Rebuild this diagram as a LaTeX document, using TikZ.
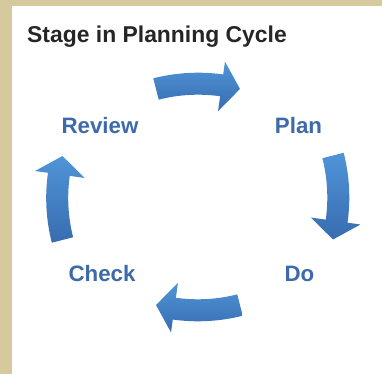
\documentclass[tikz,border=0pt]{standalone}
\usepackage{fontspec}
\setmainfont{Liberation Sans}
\definecolor{tanband}{RGB}{214,201,158}
\definecolor{titlegray}{RGB}{38,38,38}
\definecolor{stageblue}{RGB}{62,106,170}
\definecolor{arrowlight}{RGB}{80,148,216}
\definecolor{arrowdark}{RGB}{56,108,176}

\begin{document}
\begin{tikzpicture}
  [ x=1pt, y=1pt
  , title/.style={anchor=base west, inner sep=0pt, text=titlegray, font=\fontsize{22.9}{27}\selectfont\bfseries}
  , stage/.style={anchor=base, inner sep=0pt, text=stageblue, font=\fontsize{22.3}{26}\selectfont\bfseries}
  , cyclearrow/.style={top color=arrowlight, bottom color=arrowdark}]
  \useasboundingbox (0,0) rectangle (382,374);
  \fill [tanband] (0,0) rectangle (382,374);
  \fill [white] (11.5,0) rectangle (382,368);
  \node (title) at (27,331) [title] {Stage in Planning Cycle};
  \node (review) at (100,240) [stage] {Review};
  \node (plan) at (298.5,240) [stage] {Plan};
  \node (check) at (102,92.3) [stage] {Check};
  \node (do) at (299.5,92.3) [stage] {Do};
  % review -> plan
  \begin{scope}[shift={(198,120.3)}]
    \shade [cyclearrow] (104.3:159) arc [start angle=104.3, end angle=82, radius=159]
      -- (82:144) -- (75.7:170) -- (82:194) -- (82:181)
      arc [start angle=82, end angle=104.3, radius=181] -- cycle;
  \end{scope}
  % plan -> do
  \begin{scope}[shift={(168.3,176.5)}]
    \shade [cyclearrow] (14.3:159) arc [start angle=14.3, end angle=-8, radius=159]
      -- (-8:144) -- (-14.3:170) -- (-8:194) -- (-8:181)
      arc [start angle=-8, end angle=14.3, radius=181] -- cycle;
  \end{scope}
  % do -> check
  \begin{scope}[shift={(198,233.7)}]
    \shade [cyclearrow] (284.3:159) arc [start angle=284.3, end angle=262, radius=159]
      -- (262:144) -- (255.7:170) -- (262:194) -- (262:181)
      arc [start angle=262, end angle=284.3, radius=181] -- cycle;
  \end{scope}
  % check -> review
  \begin{scope}[shift={(227.2,176)}]
    \shade [cyclearrow] (194.3:159) arc [start angle=194.3, end angle=172, radius=159]
      -- (172:144) -- (165.7:170) -- (172:194) -- (172:181)
      arc [start angle=172, end angle=194.3, radius=181] -- cycle;
  \end{scope}
\end{tikzpicture}
\end{document}
